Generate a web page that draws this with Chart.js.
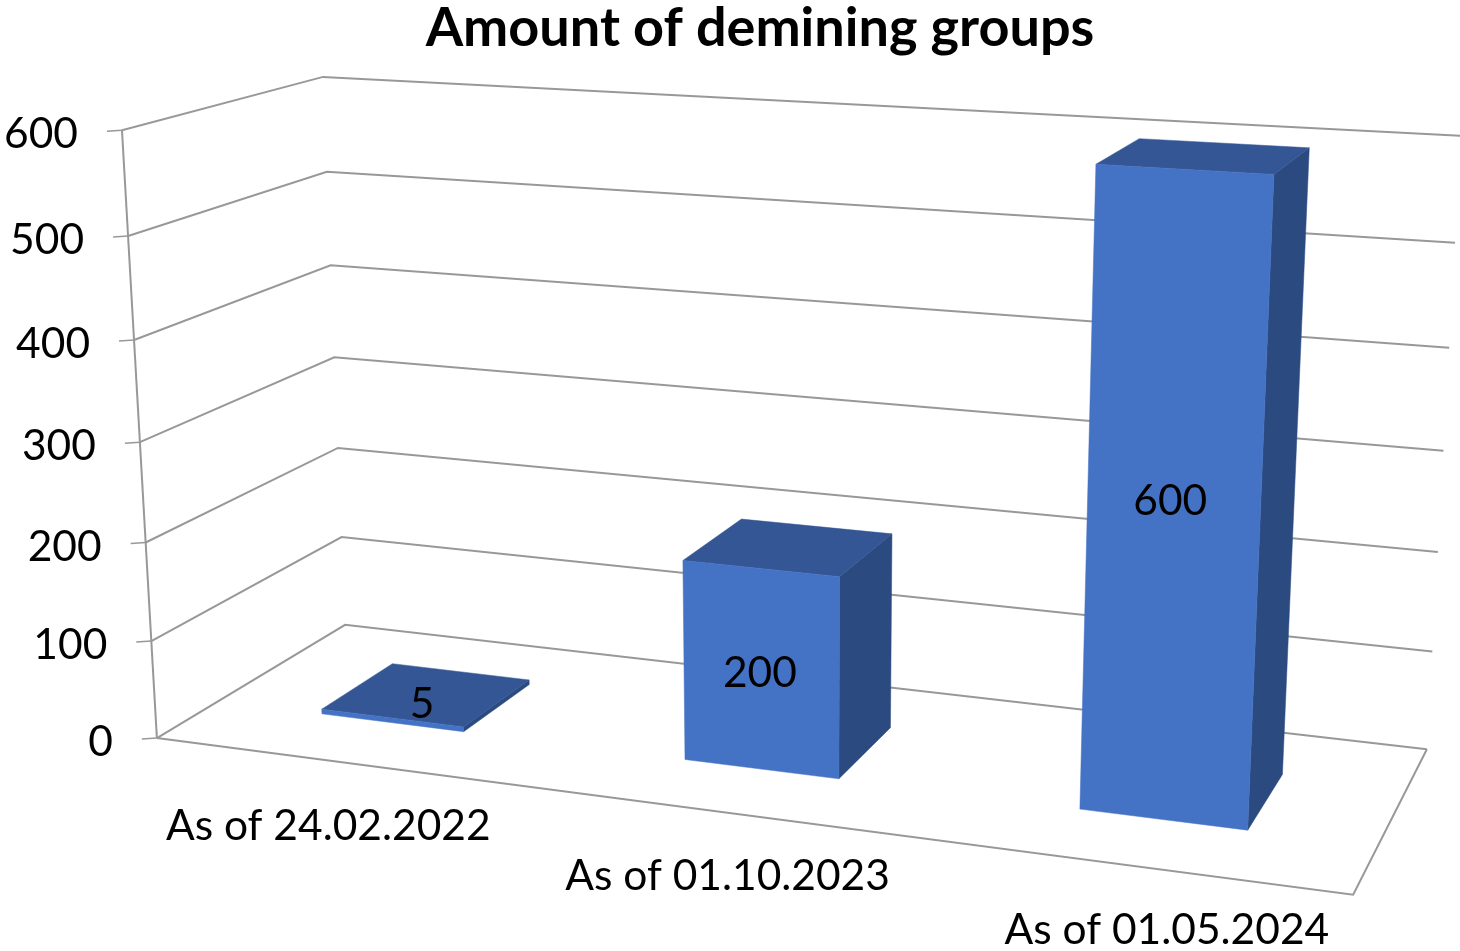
<!DOCTYPE html>
<html><head><meta charset="utf-8">
<style>html,body{margin:0;padding:0;background:#fff}canvas{display:block}</style>
<script src="https://cdn.jsdelivr.net/npm/chart.js@4"></script></head>
<body><canvas id="c" width="1460" height="951"></canvas>
<script>
const categories = ["As of 24.02.2022", "As of 01.10.2023", "As of 01.05.2024"];
const seriesName = "Amount of demining groups";
const values = [5, 200, 600];
const yMax = 600, yStep = 100;

// Perspective of the 3D box: unit-cube corners (u, v, w) -> screen position.
const frame = [
  [0,0,0,157,738],[0,1,0,122,130],[0,0,1,345,625],[0,1,1,323,77],
  [1,0,1,1427,749],[1,1,1,1461,136],[1,0,0,1353,895]
];
function solveProjection(pts){
  const A=[],b=[];
  pts.forEach(([u,v,w,x,y])=>{
    A.push([u,v,w,1,0,0,0,0,-x*u,-x*v,-x*w]);b.push(x);
    A.push([0,0,0,0,u,v,w,1,-y*u,-y*v,-y*w]);b.push(y);
  });
  const n=11,M=[];
  for(let i=0;i<n;i++){M[i]=[];for(let j=0;j<=n;j++){let s=0;
    for(let k=0;k<A.length;k++)s+=A[k][i]*(j<n?A[k][j]:b[k]);M[i][j]=s;}}
  for(let i=0;i<n;i++){let p=i;for(let r=i+1;r<n;r++)if(Math.abs(M[r][i])>Math.abs(M[p][i]))p=r;
    [M[i],M[p]]=[M[p],M[i]];
    for(let r=0;r<n;r++){if(r===i)continue;const f=M[r][i]/M[i][i];for(let c=i;c<=n;c++)M[r][c]-=f*M[i][c];}}
  return M.map((row,i)=>row[n]/row[i]);
}
const H=solveProjection(frame);
function project(u,v,w){
  const d=H[8]*u+H[9]*v+H[10]*w+1;
  return [(H[0]*u+H[1]*v+H[2]*w+H[3])/d,(H[4]*u+H[5]*v+H[6]*w+H[7])/d];
}
const FONT='Lato, sans-serif';
const GRID='#989898', TEXT='#000000';
const depth=[0.305,0.70];
const labelShift=[[30,-16],[-1,4],[-3,-2]];
const catOffset=[[-7,1],[12,1],[36,1]];

function poly(ctx,pts,fill){
  ctx.beginPath();pts.forEach((p,i)=>i?ctx.lineTo(p[0],p[1]):ctx.moveTo(p[0],p[1]));ctx.closePath();
  ctx.fillStyle=fill;ctx.fill();ctx.strokeStyle=fill;ctx.lineWidth=0.5;ctx.stroke();
}
function line(ctx,pts){
  ctx.beginPath();pts.forEach((p,i)=>i?ctx.lineTo(p[0],p[1]):ctx.moveTo(p[0],p[1]));ctx.stroke();
}
const box3d={
  id:'box3d',
  beforeDatasetsDraw(chart){
    const ctx=chart.ctx,a=chart.chartArea,xs=chart.scales.x,ys=chart.scales.y;
    const U=px=>(px-a.left)/(a.right-a.left),V=py=>(a.bottom-py)/(a.bottom-a.top);
    ctx.save();
    ctx.strokeStyle=GRID;ctx.lineWidth=2;ctx.lineJoin='miter';
    ys.ticks.forEach(t=>{
      const v=V(ys.getPixelForValue(t.value));
      const f=project(0,v,0);
      ctx.lineWidth=1.5;line(ctx,[[f[0]-15,f[1]+1],f]);ctx.lineWidth=2;
      line(ctx,[f,project(0,v,1),project(1,v,1)]);
      ctx.fillStyle=TEXT;ctx.font='42.5px '+FONT;ctx.textAlign='right';ctx.textBaseline='middle';
      ctx.fillText(String(t.value),f[0]-44,f[1]+4.5);
    });
    line(ctx,[project(0,0,0),project(0,1,0)]);
    line(ctx,[project(0,0,0),project(1,0,0),project(1,0,1)]);
    const meta=chart.getDatasetMeta(0),color=chart.data.datasets[0].backgroundColor;
    const [w0,w1]=depth;
    meta.data.forEach(el=>{
      const u0=U(el.x-el.width/2),u1=U(el.x+el.width/2),v=V(el.y),b=V(el.base);
      poly(ctx,[project(u1,b,w0),project(u1,b,w1),project(u1,v,w1),project(u1,v,w0)],'#2a4a80');
      poly(ctx,[project(u0,v,w0),project(u1,v,w0),project(u1,v,w1),project(u0,v,w1)],'#345694');
      poly(ctx,[project(u0,b,w0),project(u1,b,w0),project(u1,v,w0),project(u0,v,w0)],color);
    });
    meta.data.forEach((el,i)=>{
      const u0=U(el.x-el.width/2),u1=U(el.x+el.width/2),v=V(el.y),b=V(el.base);
      const c=project((u0+u1)/2,(v+b)/2,w0);
      ctx.fillStyle=TEXT;ctx.font='42.5px '+FONT;ctx.textAlign='center';ctx.textBaseline='middle';
      ctx.fillText(String(chart.data.datasets[0].data[i]),c[0]+labelShift[i][0],c[1]+labelShift[i][1]);
      const e=project(U(xs.getPixelForValue(i)),0,0);
      ctx.fillText(xs.getLabelForValue(i),e[0]+catOffset[i][0],e[1]+64+catOffset[i][1]);
    });
    ctx.restore();
    return false;
  }
};
new Chart(document.getElementById('c'),{
  type:'bar',
  data:{labels:categories,datasets:[{label:seriesName,data:values,backgroundColor:'#4472C4',
    categoryPercentage:1,barPercentage:0.40}]},
  plugins:[box3d],
  options:{
    responsive:false,animation:false,
    layout:{padding:{left:60,right:0,top:0,bottom:0}},
    scales:{
      x:{display:false,type:'category'},
      y:{display:false,min:0,max:yMax,ticks:{stepSize:yStep}}
    },
    plugins:{
      legend:{display:false},tooltip:{enabled:false},
      title:{display:true,text:seriesName,color:TEXT,font:{family:FONT,size:54,weight:'bold',lineHeight:1},padding:{top:2,bottom:0}}
    }
  }
});
</script></body></html>
